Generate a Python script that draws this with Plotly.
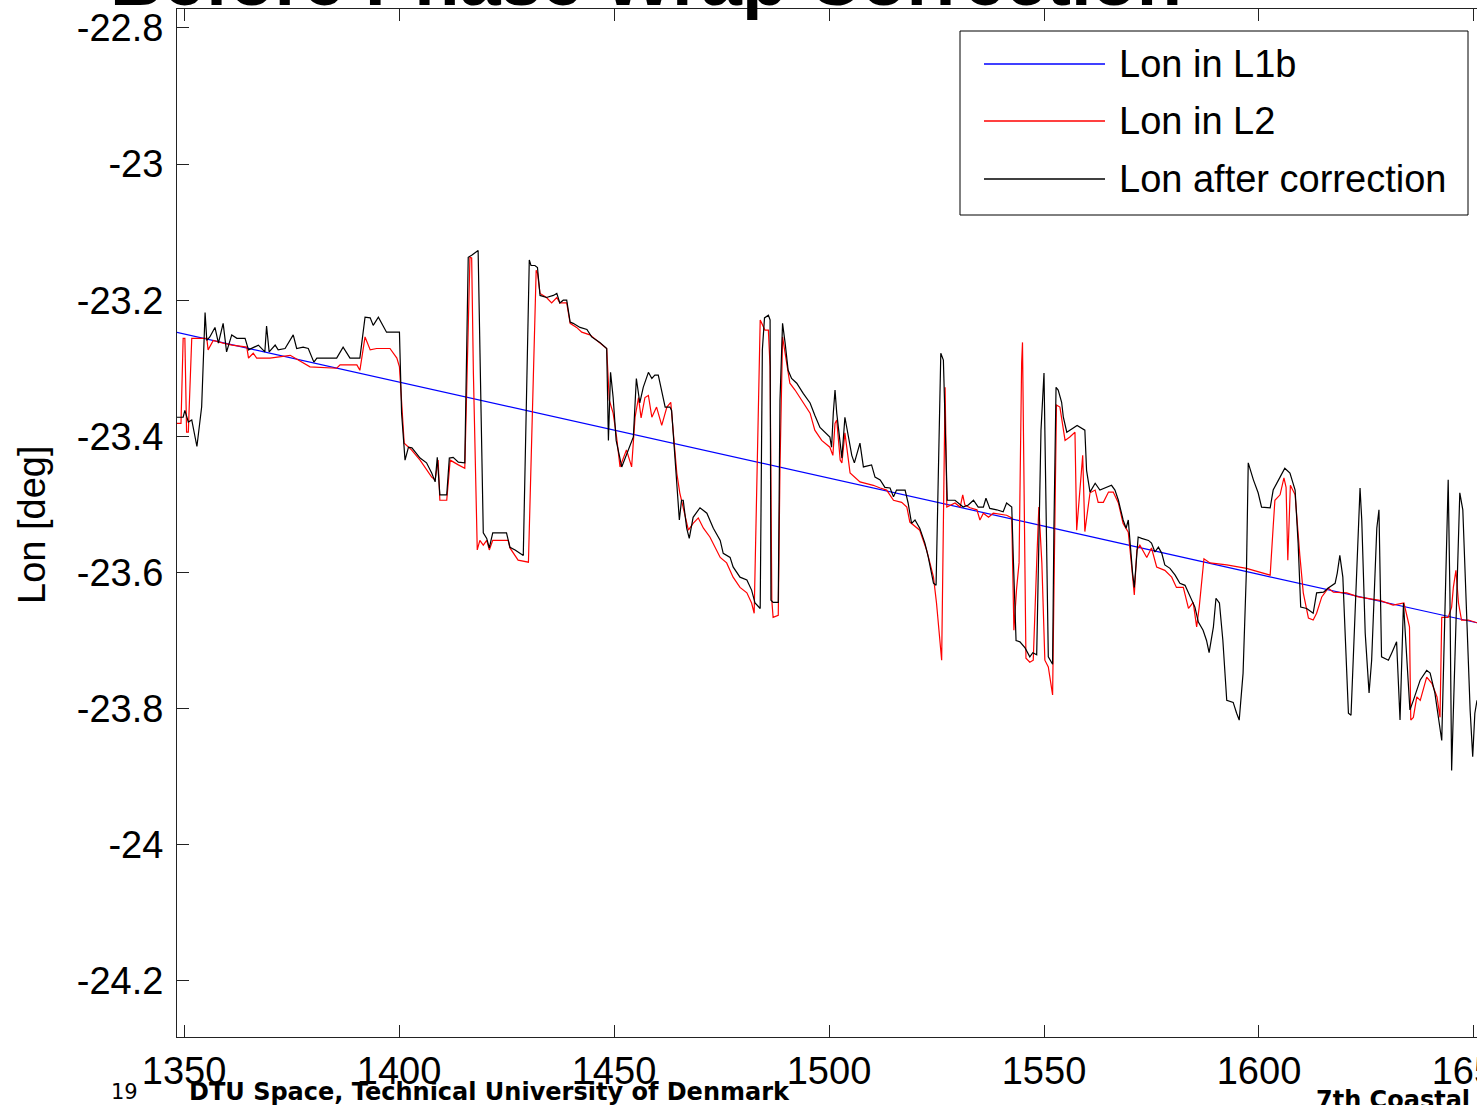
import plotly.graph_objects as go

# ---- longitude series (record index vs. longitude in degrees) ----
index_l1b = [1348.1, 1400.0, 1450.0, 1500.0, 1550.0, 1600.0, 1650.7]
lon_l1b = [-23.247, -23.320, -23.391, -23.461, -23.532, -23.603, -23.674]

index_l2 = [
    1348.1, 1349.3, 1349.8, 1350.2, 1350.6, 1351.0, 1351.8, 1355.3, 1355.6, 1356.8,
    1359.1, 1361.2, 1364.6, 1365.0, 1366.1, 1366.9, 1370.0, 1374.7, 1379.3, 1385.5,
    1386.3, 1390.2, 1390.9, 1392.1, 1393.3, 1394.8, 1397.9, 1399.5, 1400.1, 1401.2,
    1402.9, 1404.9, 1407.6, 1408.4, 1409.1, 1409.5, 1411.1, 1411.9, 1413.8, 1415.3,
    1416.5, 1416.9, 1417.3, 1418.2, 1418.8, 1419.6, 1420.4, 1421.0, 1421.8, 1425.4,
    1425.8, 1427.7, 1430.1, 1431.9, 1432.2, 1432.8, 1434.3, 1435.5, 1436.7, 1437.4,
    1439.0, 1439.8, 1441.3, 1442.5, 1444.4, 1446.7, 1448.3, 1448.9, 1449.8, 1450.6,
    1451.4, 1452.9, 1454.1, 1454.9, 1455.7, 1456.3, 1457.2, 1458.0, 1458.8, 1459.9,
    1461.1, 1462.3, 1463.2, 1463.8, 1464.6, 1465.3, 1466.5, 1467.3, 1468.4, 1469.6,
    1470.8, 1472.3, 1474.7, 1476.2, 1477.7, 1479.3, 1480.9, 1482.0, 1482.6, 1483.6,
    1484.0, 1484.6, 1485.1, 1485.9, 1486.3, 1486.7, 1487.0, 1488.2, 1488.6, 1489.2,
    1490.2, 1490.9, 1492.1, 1493.3, 1494.8, 1495.6, 1496.7, 1498.3, 1500.2, 1500.9,
    1501.4, 1501.8, 1502.6, 1503.0, 1503.7, 1504.9, 1507.2, 1510.3, 1511.9, 1513.4,
    1515.0, 1516.9, 1518.1, 1518.8, 1521.1, 1522.7, 1524.3, 1525.0, 1526.2, 1526.6,
    1527.0, 1527.4, 1529.3, 1530.5, 1531.1, 1531.6, 1532.8, 1534.4, 1535.1, 1535.9,
    1537.1, 1538.2, 1541.3, 1542.5, 1543.0, 1543.6, 1544.2, 1544.8, 1545.0, 1545.3,
    1545.8, 1546.7, 1547.5, 1548.3, 1548.8, 1549.5, 1550.2, 1551.0, 1552.0, 1552.4,
    1552.9, 1553.7, 1554.9, 1556.0, 1557.2, 1557.6, 1559.0, 1559.5, 1560.7, 1561.9,
    1562.6, 1563.8, 1565.0, 1566.1, 1567.3, 1568.4, 1569.6, 1570.4, 1571.0, 1571.6,
    1572.3, 1573.9, 1575.0, 1576.2, 1578.1, 1579.7, 1580.8, 1582.4, 1583.6, 1584.7,
    1585.5, 1586.1, 1587.2, 1588.6, 1592.5, 1597.1, 1602.6, 1603.3, 1603.7, 1604.9,
    1605.8, 1606.3, 1606.7, 1607.3, 1608.4, 1609.5, 1610.3, 1611.5, 1612.6, 1613.4,
    1614.6, 1616.1, 1617.3, 1620.4, 1623.1, 1628.1, 1631.2, 1633.7, 1635.0, 1635.3,
    1635.9, 1636.7, 1637.5, 1639.0, 1640.2, 1641.4, 1642.1, 1642.5, 1644.0, 1644.8,
    1645.2, 1645.8, 1646.4, 1647.1, 1648.7, 1650.7,
]
lon_l2 = [
    -23.381, -23.381, -23.256, -23.256, -23.394, -23.394, -23.256, -23.256, -23.273, -23.259,
    -23.263, -23.266, -23.269, -23.285, -23.278, -23.285, -23.285, -23.281, -23.298, -23.300,
    -23.295, -23.295, -23.303, -23.254, -23.273, -23.271, -23.271, -23.285, -23.298, -23.410,
    -23.420, -23.435, -23.460, -23.464, -23.435, -23.494, -23.494, -23.435, -23.442, -23.447,
    -23.137, -23.138, -23.307, -23.567, -23.553, -23.560, -23.553, -23.567, -23.553, -23.553,
    -23.564, -23.582, -23.585, -23.156, -23.160, -23.190, -23.196, -23.204, -23.196, -23.204,
    -23.204, -23.234, -23.240, -23.247, -23.251, -23.262, -23.271, -23.347, -23.366, -23.401,
    -23.445, -23.420, -23.445, -23.372, -23.343, -23.373, -23.343, -23.340, -23.372, -23.357,
    -23.384, -23.357, -23.350, -23.395, -23.454, -23.483, -23.519, -23.538, -23.528, -23.520,
    -23.535, -23.548, -23.578, -23.586, -23.607, -23.622, -23.630, -23.645, -23.660, -23.347,
    -23.229, -23.237, -23.244, -23.244, -23.298, -23.641, -23.666, -23.663, -23.445, -23.254,
    -23.298, -23.322, -23.332, -23.343, -23.357, -23.366, -23.391, -23.406, -23.416, -23.428,
    -23.381, -23.376, -23.435, -23.439, -23.395, -23.454, -23.467, -23.472, -23.476, -23.479,
    -23.494, -23.497, -23.504, -23.526, -23.538, -23.567, -23.607, -23.645, -23.729, -23.538,
    -23.328, -23.504, -23.498, -23.504, -23.486, -23.501, -23.505, -23.508, -23.523, -23.513,
    -23.519, -23.513, -23.516, -23.520, -23.685, -23.626, -23.586, -23.292, -23.262, -23.439,
    -23.726, -23.732, -23.729, -23.586, -23.504, -23.586, -23.729, -23.739, -23.780, -23.586,
    -23.354, -23.357, -23.406, -23.401, -23.394, -23.538, -23.428, -23.540, -23.483, -23.479,
    -23.497, -23.497, -23.482, -23.482, -23.498, -23.528, -23.541, -23.592, -23.633, -23.567,
    -23.560, -23.578, -23.564, -23.592, -23.597, -23.607, -23.622, -23.622, -23.653, -23.644,
    -23.680, -23.651, -23.580, -23.586, -23.589, -23.594, -23.604, -23.533, -23.494, -23.486,
    -23.461, -23.475, -23.582, -23.472, -23.486, -23.575, -23.630, -23.667, -23.670, -23.660,
    -23.636, -23.623, -23.629, -23.630, -23.636, -23.641, -23.648, -23.645, -23.680, -23.817,
    -23.813, -23.783, -23.788, -23.754, -23.763, -23.783, -23.813, -23.666, -23.666, -23.651,
    -23.622, -23.597, -23.645, -23.670, -23.670, -23.674,
]

index_corr = [
    1348.1, 1349.8, 1350.2, 1351.0, 1351.8, 1353.0, 1354.1, 1354.9, 1355.3, 1356.0,
    1357.2, 1358.0, 1359.1, 1359.9, 1361.1, 1362.3, 1364.2, 1365.0, 1367.3, 1368.8,
    1369.2, 1369.8, 1371.2, 1371.9, 1373.5, 1375.4, 1376.2, 1377.7, 1378.9, 1380.2,
    1380.9, 1385.5, 1387.0, 1388.6, 1390.9, 1392.1, 1393.3, 1394.0, 1395.2, 1397.1,
    1400.1, 1400.6, 1401.4, 1402.2, 1403.0, 1404.9, 1406.4, 1407.6, 1408.4, 1408.9,
    1409.5, 1411.1, 1411.7, 1412.6, 1413.8, 1415.3, 1416.1, 1416.9, 1418.4, 1418.8,
    1419.6, 1420.4, 1421.0, 1421.8, 1425.0, 1425.8, 1427.0, 1428.9, 1430.3, 1430.7,
    1431.6, 1432.2, 1432.8, 1434.3, 1435.9, 1436.7, 1437.4, 1438.2, 1439.0, 1439.8,
    1440.5, 1442.1, 1443.7, 1444.8, 1446.7, 1448.3, 1448.7, 1449.2, 1449.8, 1450.5,
    1451.8, 1454.5, 1455.2, 1456.0, 1456.8, 1458.0, 1458.8, 1459.5, 1460.3, 1461.9,
    1463.0, 1463.4, 1463.8, 1464.6, 1465.2, 1465.7, 1466.1, 1466.9, 1467.5, 1468.4,
    1470.0, 1471.6, 1473.1, 1474.7, 1475.4, 1477.0, 1477.7, 1479.3, 1480.9, 1482.0,
    1482.8, 1484.0, 1484.5, 1485.0, 1485.9, 1486.3, 1486.5, 1487.0, 1488.2, 1488.6,
    1489.2, 1489.8, 1490.5, 1491.3, 1492.5, 1494.0, 1495.6, 1496.7, 1497.9, 1500.2,
    1500.6, 1501.0, 1501.4, 1501.8, 1502.6, 1503.0, 1503.7, 1504.5, 1505.3, 1505.9,
    1507.2, 1508.0, 1509.9, 1510.7, 1511.9, 1513.0, 1514.2, 1515.0, 1515.7, 1517.7,
    1518.4, 1519.2, 1520.0, 1521.1, 1522.3, 1523.1, 1524.3, 1524.9, 1525.4, 1526.0,
    1526.6, 1527.2, 1527.5, 1529.3, 1530.1, 1531.2, 1532.4, 1533.6, 1534.7, 1535.9,
    1536.5, 1537.4, 1539.0, 1540.5, 1541.3, 1542.5, 1542.9, 1543.5, 1544.4, 1545.6,
    1546.7, 1547.4, 1548.3, 1548.9, 1549.3, 1550.0, 1550.5, 1551.0, 1552.0, 1552.3,
    1552.8, 1553.3, 1554.1, 1554.5, 1555.3, 1556.8, 1557.7, 1559.5, 1559.9, 1560.7,
    1561.9, 1563.0, 1564.6, 1565.7, 1566.5, 1567.3, 1568.4, 1569.1, 1569.6, 1570.0,
    1570.6, 1571.0, 1571.4, 1571.9, 1572.7, 1574.3, 1575.0, 1575.8, 1576.6, 1577.4,
    1578.1, 1579.3, 1580.5, 1581.6, 1582.8, 1583.6, 1585.1, 1585.9, 1587.0, 1587.8,
    1588.4, 1589.4, 1590.0, 1590.8, 1591.6, 1592.5, 1594.0, 1594.8, 1595.4, 1596.3,
    1597.1, 1597.5, 1598.7, 1599.8, 1600.6, 1602.6, 1603.3, 1604.9, 1606.0, 1607.2,
    1608.4, 1609.1, 1609.7, 1611.1, 1612.6, 1613.4, 1615.0, 1616.1, 1617.7, 1618.2,
    1618.8, 1619.5, 1620.8, 1621.4, 1621.9, 1623.1, 1623.5, 1623.9, 1624.7, 1625.6,
    1626.2, 1627.4, 1627.9, 1628.5, 1630.1, 1630.9, 1632.0, 1632.8, 1633.6, 1634.4,
    1635.1, 1635.9, 1637.5, 1639.0, 1639.8, 1640.9, 1642.1, 1642.5, 1644.0, 1644.4,
    1644.8, 1646.0, 1646.7, 1647.4, 1648.3, 1649.1, 1649.7, 1650.2, 1650.7,
]
lon_corr = [
    -23.372, -23.372, -23.362, -23.379, -23.376, -23.415, -23.357, -23.218, -23.259, -23.254,
    -23.240, -23.263, -23.234, -23.276, -23.251, -23.256, -23.256, -23.273, -23.266, -23.276,
    -23.238, -23.276, -23.266, -23.273, -23.271, -23.251, -23.271, -23.269, -23.271, -23.291,
    -23.285, -23.285, -23.269, -23.285, -23.285, -23.225, -23.226, -23.237, -23.225, -23.247,
    -23.247, -23.366, -23.435, -23.416, -23.417, -23.432, -23.439, -23.454, -23.467, -23.431,
    -23.486, -23.486, -23.432, -23.431, -23.438, -23.439, -23.137, -23.134, -23.127, -23.259,
    -23.542, -23.550, -23.564, -23.542, -23.542, -23.563, -23.567, -23.575, -23.141, -23.149,
    -23.149, -23.152, -23.193, -23.196, -23.193, -23.190, -23.204, -23.200, -23.200, -23.232,
    -23.234, -23.240, -23.243, -23.254, -23.262, -23.271, -23.406, -23.306, -23.343, -23.406,
    -23.445, -23.401, -23.315, -23.351, -23.328, -23.306, -23.315, -23.310, -23.310, -23.357,
    -23.357, -23.362, -23.401, -23.479, -23.523, -23.494, -23.494, -23.535, -23.550, -23.519,
    -23.505, -23.513, -23.535, -23.553, -23.572, -23.578, -23.592, -23.607, -23.611, -23.626,
    -23.645, -23.653, -23.273, -23.226, -23.222, -23.229, -23.641, -23.644, -23.644, -23.347,
    -23.234, -23.263, -23.303, -23.315, -23.322, -23.337, -23.351, -23.369, -23.387, -23.401,
    -23.416, -23.366, -23.332, -23.366, -23.406, -23.432, -23.372, -23.401, -23.428, -23.439,
    -23.410, -23.445, -23.442, -23.460, -23.464, -23.475, -23.476, -23.489, -23.479, -23.479,
    -23.498, -23.528, -23.523, -23.535, -23.557, -23.578, -23.616, -23.619, -23.439, -23.278,
    -23.288, -23.406, -23.494, -23.494, -23.498, -23.504, -23.501, -23.494, -23.504, -23.504,
    -23.491, -23.506, -23.508, -23.511, -23.498, -23.504, -23.586, -23.700, -23.702, -23.711,
    -23.724, -23.718, -23.721, -23.489, -23.391, -23.307, -23.538, -23.724, -23.735, -23.538,
    -23.328, -23.332, -23.350, -23.372, -23.394, -23.387, -23.384, -23.391, -23.450, -23.482,
    -23.469, -23.479, -23.475, -23.472, -23.479, -23.494, -23.523, -23.535, -23.523, -23.557,
    -23.601, -23.622, -23.586, -23.548, -23.550, -23.553, -23.557, -23.570, -23.563, -23.572,
    -23.589, -23.594, -23.604, -23.616, -23.619, -23.630, -23.651, -23.673, -23.685, -23.700,
    -23.718, -23.680, -23.638, -23.645, -23.700, -23.788, -23.791, -23.807, -23.817, -23.748,
    -23.592, -23.439, -23.464, -23.483, -23.504, -23.505, -23.479, -23.460, -23.447, -23.454,
    -23.479, -23.557, -23.651, -23.653, -23.660, -23.630, -23.629, -23.623, -23.616, -23.601,
    -23.575, -23.607, -23.807, -23.810, -23.729, -23.535, -23.476, -23.523, -23.689, -23.777,
    -23.729, -23.535, -23.508, -23.724, -23.729, -23.718, -23.702, -23.817, -23.645, -23.729,
    -23.802, -23.788, -23.758, -23.744, -23.748, -23.777, -23.827, -23.847, -23.464, -23.630,
    -23.891, -23.630, -23.483, -23.508, -23.680, -23.802, -23.871, -23.807, -23.788,
]

series_names = ["Lon in L1b", "Lon in L2", "Lon after correction"]
series_colors = ["#0000ff", "#ff0000", "#000000"]

x_ticks = [1350, 1400, 1450, 1500, 1550, 1600, 1650]
x_tick_labels = ["1350", "1400", "1450", "1500", "1550", "1600", "1650"]
y_ticks = [-22.8, -23.0, -23.2, -23.4, -23.6, -23.8, -24.0, -24.2]
y_tick_labels = ["-22.8", "-23", "-23.2", "-23.4", "-23.6", "-23.8", "-24", "-24.2"]

x_range = [1348.37, 1650.7]
y_range = [-24.2827, -22.7721]

# ---- page geometry ----
W, H = 1477, 1105
ML, MR, MT, MB = 177, 0, 9, 68
PW = W - ML - MR
PH = H - MT - MB


def fx(p):
    """horizontal page pixel -> paper fraction"""
    return (p - ML) / PW


def fy(p):
    """vertical page pixel (from top) -> paper fraction"""
    return (H - MB - p) / PH


AX_FONT = dict(family="Liberation Sans, Arial, sans-serif", size=38, color="#000000")
FOOT_FONT = "DejaVu Sans, Verdana, sans-serif"

fig = go.Figure()
series = [(index_l1b, lon_l1b), (index_l2, lon_l2), (index_corr, lon_corr)]
for (xs, ys), name, color in zip(series, series_names, series_colors):
    fig.add_trace(go.Scatter(
        x=xs, y=ys, mode="lines", name=name,
        line=dict(color=color, width=1.2),
        showlegend=False, hoverinfo="skip",
    ))

fig.update_layout(
    width=W, height=H,
    margin=dict(l=ML, r=MR, t=MT, b=MB, pad=0, autoexpand=False),
    paper_bgcolor="#ffffff", plot_bgcolor="#ffffff",
    xaxis=dict(
        range=x_range, tickmode="array", tickvals=x_ticks, ticktext=x_tick_labels,
        ticks="inside", ticklen=12, tickwidth=1, tickcolor="#222222",
        showline=True, linecolor="#222222", linewidth=1, mirror="ticks",
        showgrid=False, zeroline=False, tickfont=AX_FONT, ticklabelstandoff=0,
        ticklabeloverflow="allow", automargin=False,
    ),
    yaxis=dict(
        range=y_range, tickmode="array", tickvals=y_ticks, ticktext=y_tick_labels,
        ticks="inside", ticklen=12, tickwidth=1, tickcolor="#222222",
        showline=True, linecolor="#222222", linewidth=1, mirror=False,
        showgrid=False, zeroline=False, tickfont=AX_FONT, ticklabelstandoff=5,
        ticklabeloverflow="allow", automargin=False,
    ),
    yaxis2=dict(
        range=y_range, overlaying="y", side="right", anchor="x",
        tickmode="array", tickvals=y_ticks, showticklabels=False,
        ticks="inside", ticklen=10, tickwidth=1, tickcolor="#222222",
        showline=False, showgrid=False, zeroline=False, automargin=False,
    ),
)

# legend box drawn as a framed panel with line samples
fig.add_shape(type="rect", xref="paper", yref="paper",
              x0=fx(960), x1=fx(1468), y0=fy(215), y1=fy(31),
              line=dict(color="#000000", width=1), fillcolor="#ffffff", layer="above")
legend_rows = [64, 121, 179]
for ly, name, color in zip(legend_rows, series_names, series_colors):
    fig.add_shape(type="line", xref="paper", yref="paper",
                  x0=fx(984), x1=fx(1105), y0=fy(ly), y1=fy(ly),
                  line=dict(color=color, width=1.5), layer="above")
    fig.add_annotation(text=name, xref="paper", yref="paper",
                       x=fx(1117), y=fy(ly), xanchor="left", yanchor="middle",
                       showarrow=False, font=AX_FONT)

# axis title
fig.add_annotation(text="Lon [deg]", xref="paper", yref="paper",
                   x=fx(32), y=fy(525), xanchor="center", yanchor="middle",
                   textangle=-90, showarrow=False, font=AX_FONT)

# slide title, mostly above the top edge of the page
fig.add_annotation(text="<b>Before Phase Wrap Correction</b>", xref="paper", yref="paper",
                   x=fx(108), y=1, xanchor="left", yanchor="bottom", yshift=-14,
                   showarrow=False,
                   font=dict(family="Liberation Sans, Arial, sans-serif", size=74, color="#000000"))

# slide footer
fig.add_annotation(text="19", xref="paper", yref="paper",
                   x=fx(109), y=fy(1092), xanchor="left", yanchor="middle",
                   showarrow=False, font=dict(family=FOOT_FONT, size=21, color="#000000"))
fig.add_annotation(text="<b>DTU Space, Technical University of Denmark</b>",
                   xref="paper", yref="paper",
                   x=fx(187), y=fy(1092), xanchor="left", yanchor="middle",
                   showarrow=False, font=dict(family=FOOT_FONT, size=24, color="#000000"))
fig.add_annotation(text="<b>7th Coastal Altimetry Workshop</b>",
                   xref="paper", yref="paper",
                   x=fx(1314), y=fy(1100), xanchor="left", yanchor="middle",
                   showarrow=False, font=dict(family=FOOT_FONT, size=24, color="#000000"))

fig.write_html("out.html")
